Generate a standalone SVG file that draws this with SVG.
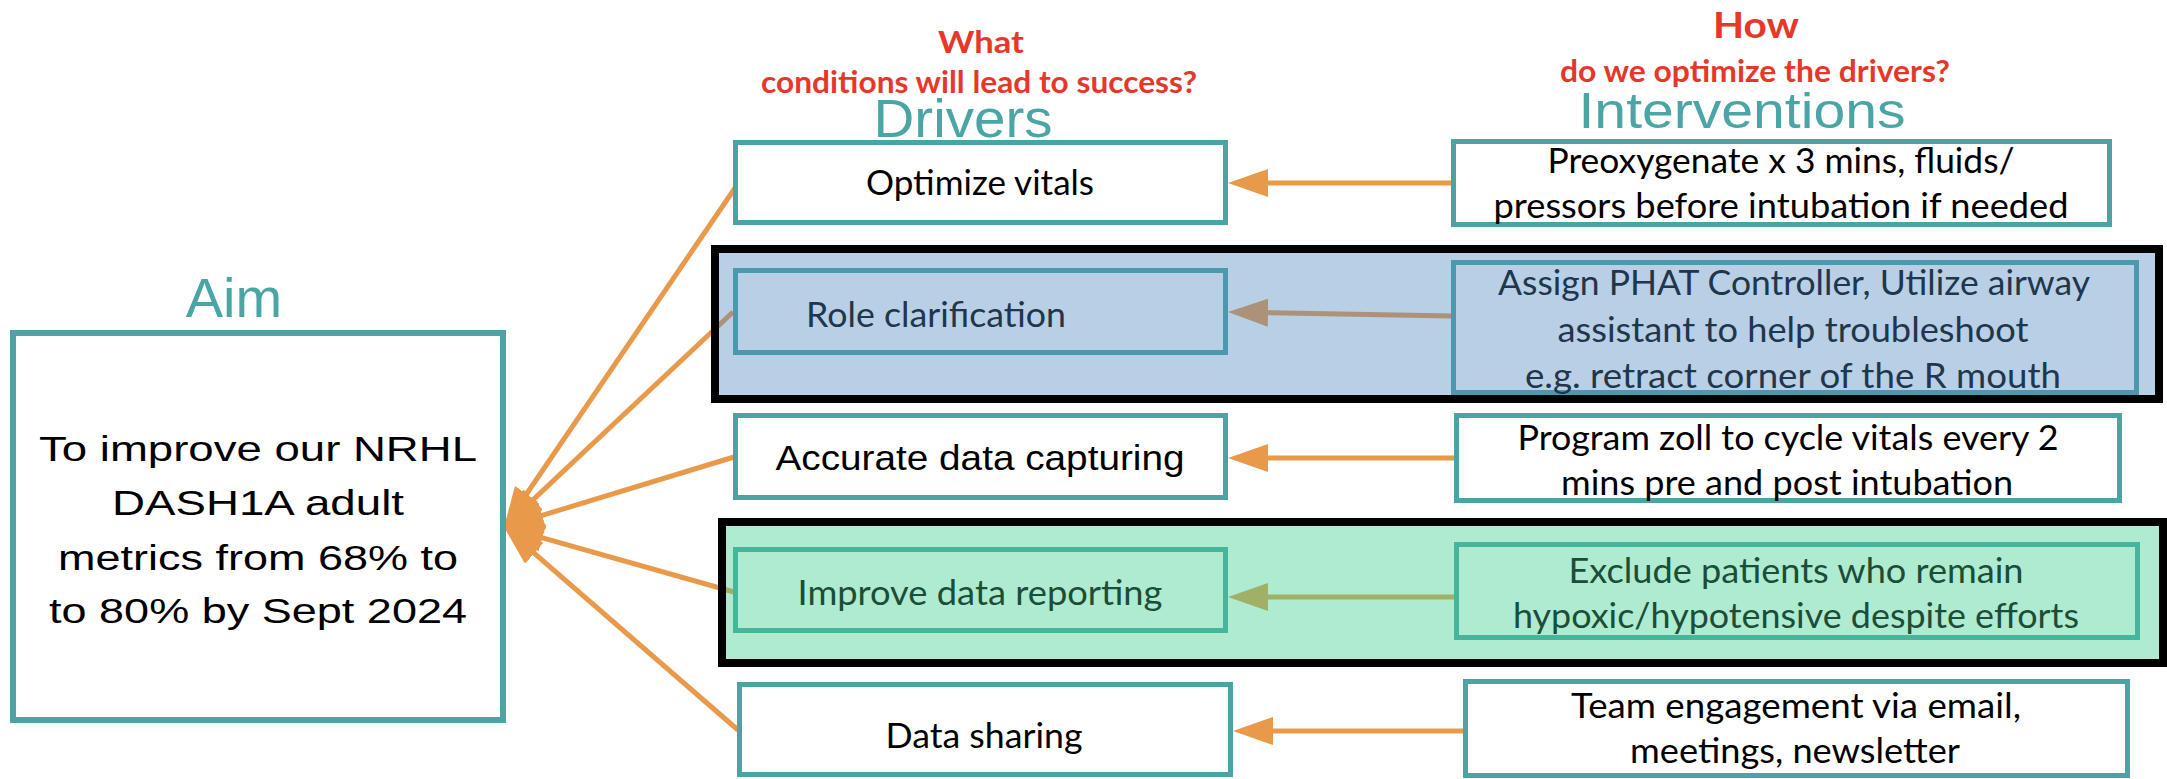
<svg xmlns="http://www.w3.org/2000/svg" width="2167" height="779" viewBox="0 0 2167 779">
<style>
.box{fill:#ffffff;stroke:#4BA3A3;stroke-width:5}
.aimbox{fill:#ffffff;stroke:#4BA3A3;stroke-width:6}
.bluebox{fill:#B8CFE6;stroke:#4C98AF;stroke-width:5}
.mintbox{fill:#AEEBD0;stroke:#45B69B;stroke-width:5}
.t{font-family:Lato,"Open Sans",sans-serif;font-size:35px;fill:#000000;text-anchor:middle}
.tb{fill:#1F364D}
.tg{fill:#1B4D38}
.arial{font-family:"Liberation Sans",Arial,sans-serif}
.h{font-family:"Liberation Sans",Arial,sans-serif;fill:#4BA5A5;text-anchor:middle}
.q{font-family:Lato,"Open Sans",sans-serif;font-weight:bold;fill:#E5382B;text-anchor:middle}
.con{stroke:#E9994A;stroke-width:5;fill:none}
.band1{fill:rgb(78,135,193);fill-opacity:0.4;stroke:#000000;stroke-width:8}
.band2{fill:rgb(62,207,143);fill-opacity:0.42;stroke:#000000;stroke-width:8}
</style>
<defs>
<marker id="ah" markerUnits="userSpaceOnUse" markerWidth="40" markerHeight="28" refX="20" refY="14" orient="auto">
<path d="M0,0 L40,14 L0,28 z" fill="#E9994A"/>
</marker>
</defs>
<rect x="0" y="0" width="2167" height="779" fill="#ffffff"/>

<g id="headers">
<text class="q" x="981" y="53" font-size="31" textLength="86" lengthAdjust="spacingAndGlyphs">What</text>
<text class="q" x="979" y="93" font-size="31" textLength="436" lengthAdjust="spacingAndGlyphs">conditions will lead to success?</text>
<text class="q" x="1756" y="38" font-size="36" textLength="86" lengthAdjust="spacingAndGlyphs">How</text>
<text class="q" x="1755" y="82" font-size="30" textLength="390" lengthAdjust="spacingAndGlyphs">do we optimize the drivers?</text>
<text class="h" x="963" y="137" font-size="54" textLength="179" lengthAdjust="spacingAndGlyphs">Drivers</text>
<text class="h" x="1742" y="128" font-size="50" textLength="327" lengthAdjust="spacingAndGlyphs">Interventions</text>
<text class="h" x="234" y="317" font-size="56">Aim</text>
</g>

<g id="connectors">
<line class="con" x1="735" y1="188" x2="515.3" y2="510.5" marker-end="url(#ah)"/>
<line class="con" x1="733" y1="312" x2="518.6" y2="513.3" marker-end="url(#ah)"/>
<line class="con" x1="734" y1="457" x2="523.1" y2="521.2" marker-end="url(#ah)"/>
<line class="con" x1="734" y1="592" x2="523.2" y2="532.4" marker-end="url(#ah)"/>
<line class="con" x1="738" y1="730" x2="519.1" y2="540.1" marker-end="url(#ah)"/>
<line class="con" x1="1452" y1="183" x2="1248" y2="183" marker-end="url(#ah)"/>
<line class="con" x1="1452" y1="316" x2="1248" y2="312.4" marker-end="url(#ah)"/>
<line class="con" x1="1455" y1="458" x2="1248" y2="458" marker-end="url(#ah)"/>
<line class="con" x1="1455" y1="597" x2="1248" y2="597" marker-end="url(#ah)"/>
<line class="con" x1="1464" y1="731" x2="1253" y2="731" marker-end="url(#ah)"/>
</g>

<g id="highlight-bands">
<rect class="band1" x="715" y="249" width="1444" height="150"/>
<rect class="band2" x="722" y="522" width="1441" height="141"/>
</g>

<g id="aim">
<rect class="aimbox" x="13" y="333" width="490" height="387"/>
<text class="t arial" x="258" y="461" font-size="44" textLength="438" lengthAdjust="spacingAndGlyphs">To improve our NRHL</text>
<text class="t arial" x="258" y="515" font-size="44" textLength="292" lengthAdjust="spacingAndGlyphs">DASH1A adult</text>
<text class="t arial" x="258" y="570" font-size="44" textLength="400" lengthAdjust="spacingAndGlyphs">metrics from 68% to</text>
<text class="t arial" x="258" y="623" font-size="44" textLength="418" lengthAdjust="spacingAndGlyphs">to 80% by Sept 2024</text>
</g>

<g id="driver-optimize-vitals">
<rect class="box" x="735.5" y="142.5" width="490" height="80"/>
<text class="t" x="980" y="195" textLength="228" lengthAdjust="spacingAndGlyphs">Optimize vitals</text>
</g>
<g id="driver-role-clarification">
<rect class="bluebox" x="735.5" y="270.5" width="490" height="82"/>
<text class="t tb" x="806" y="327" text-anchor="start" style="text-anchor:start" textLength="260" lengthAdjust="spacingAndGlyphs">Role clarification</text>
</g>
<g id="driver-accurate-data">
<rect class="box" x="735.5" y="415.5" width="490" height="82"/>
<text class="t arial" x="980" y="470" font-size="38" textLength="409" lengthAdjust="spacingAndGlyphs">Accurate data capturing</text>
</g>
<g id="driver-improve-reporting">
<rect class="mintbox" x="735.5" y="549.5" width="490" height="81"/>
<text class="t tg" x="980" y="605" textLength="365" lengthAdjust="spacingAndGlyphs">Improve data reporting</text>
</g>
<g id="driver-data-sharing">
<rect class="box" x="739.5" y="684.5" width="491" height="90"/>
<text class="t" x="984" y="748" textLength="197" lengthAdjust="spacingAndGlyphs">Data sharing</text>
</g>

<g id="intervention-preoxygenate">
<rect class="box" x="1453.5" y="141.5" width="656" height="83"/>
<text class="t" x="1781" y="173" textLength="467" lengthAdjust="spacingAndGlyphs">Preoxygenate x 3 mins, fluids/</text>
<text class="t" x="1781" y="218" textLength="575" lengthAdjust="spacingAndGlyphs">pressors before intubation if needed</text>
</g>
<g id="intervention-assign-phat">
<rect class="bluebox" x="1453.5" y="262.5" width="683" height="130"/>
<text class="t tb" x="1794" y="295" textLength="592" lengthAdjust="spacingAndGlyphs">Assign PHAT Controller, Utilize airway</text>
<text class="t tb" x="1793" y="342" textLength="471" lengthAdjust="spacingAndGlyphs">assistant to help troubleshoot</text>
<text class="t tb" x="1793" y="388" textLength="536" lengthAdjust="spacingAndGlyphs">e.g.  retract corner of the R mouth</text>
</g>
<g id="intervention-program-zoll">
<rect class="box" x="1456.5" y="415.5" width="663" height="85"/>
<text class="t" x="1788" y="450" textLength="541" lengthAdjust="spacingAndGlyphs">Program zoll to cycle vitals every 2</text>
<text class="t" x="1787" y="495" textLength="452" lengthAdjust="spacingAndGlyphs">mins pre and post intubation</text>
</g>
<g id="intervention-exclude">
<rect class="mintbox" x="1456.5" y="544.5" width="681" height="93"/>
<text class="t tg" x="1796" y="583" textLength="455" lengthAdjust="spacingAndGlyphs">Exclude patients who remain</text>
<text class="t tg" x="1796" y="628" textLength="566" lengthAdjust="spacingAndGlyphs">hypoxic/hypotensive despite efforts</text>
</g>
<g id="intervention-team-engagement">
<rect class="box" x="1465.5" y="681.5" width="662" height="94"/>
<text class="t" x="1796" y="718" textLength="450" lengthAdjust="spacingAndGlyphs">Team engagement via email,</text>
<text class="t" x="1795" y="763" textLength="330" lengthAdjust="spacingAndGlyphs">meetings, newsletter</text>
</g>
</svg>
